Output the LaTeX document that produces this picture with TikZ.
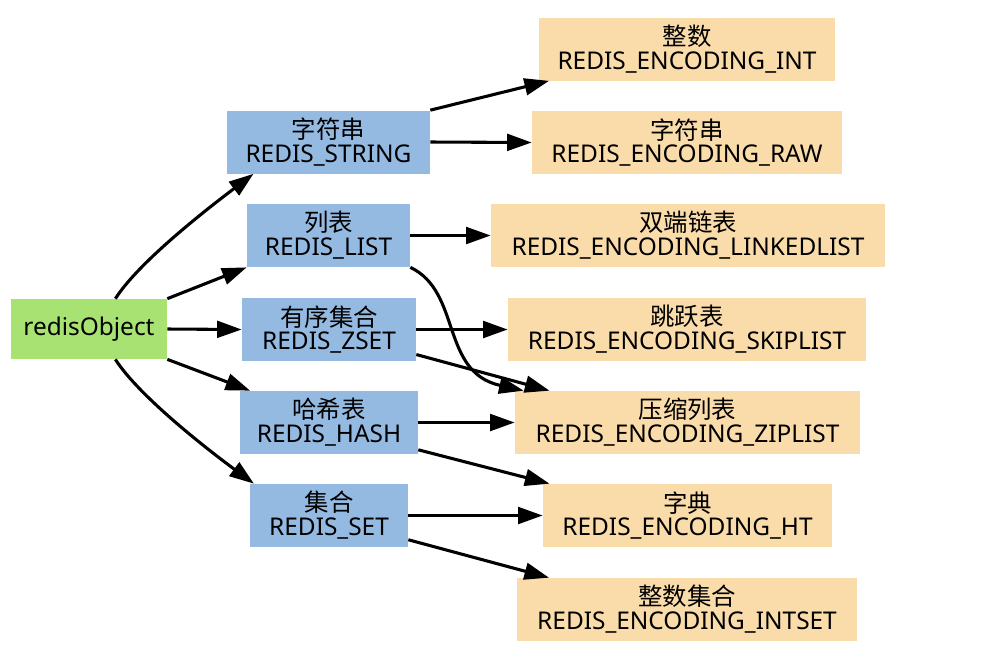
\documentclass[tikz,border=0pt]{standalone}
\usepackage{fontspec}
\setmainfont{Noto Sans}
\newfontfamily\cjk{Noto Sans CJK SC}
\usetikzlibrary{arrows.meta}

\definecolor{objgreen}{HTML}{A8E273}
\definecolor{typeblue}{HTML}{95BAE2}
\definecolor{encorange}{HTML}{FADCAB}

\begin{document}
\begin{tikzpicture}[x=0.02cm,y=-0.02cm,
    box/.style={inner sep=0pt, minimum height=1.26cm, align=center,
                font=\fontsize{13.9}{13.6}\selectfont},
    objbox/.style={box, fill=objgreen, minimum width=3.12cm, minimum height=1.2cm},
    typebox/.style={box, fill=typeblue, minimum width=#1},
    encbox/.style={box, fill=encorange, minimum width=#1},
    arr/.style={-{Triangle[length=14pt,width=9.5pt]}, line width=1.75pt},
    ]
\useasboundingbox (0,0) rectangle (989,664);

%-------------------------------------------- Object
\node[objbox] (robj) at (89,329) {redisObject};

%-------------------------------------------- Types
\node[typebox=4.06cm] (tstring) at (328.5,142)   {{\cjk 字符串}\\REDIS\_STRING};
\node[typebox=3.26cm] (tlist)   at (328.5,235.5) {{\cjk 列表}\\REDIS\_LIST};
\node[typebox=3.48cm] (tzset)   at (329,329.5)   {{\cjk 有序集合}\\REDIS\_ZSET};
\node[typebox=3.56cm] (thash)   at (329,422.5)   {{\cjk 哈希表}\\REDIS\_HASH};
\node[typebox=3.16cm] (tset)    at (329,515.5)   {{\cjk 集合}\\REDIS\_SET};

%-------------------------------------------- Encodings
\node[encbox=5.92cm] (eint)    at (687,49)      {{\cjk 整数}\\REDIS\_ENCODING\_INT};
\node[encbox=6.2cm]  (eraw)    at (687,142.5)   {{\cjk 字符串}\\REDIS\_ENCODING\_RAW};
\node[encbox=7.88cm] (elinked) at (688,235.5)   {{\cjk 双端链表}\\REDIS\_ENCODING\_LINKEDLIST};
\node[encbox=7.16cm] (eskip)   at (687,329.5)   {{\cjk 跳跃表}\\REDIS\_ENCODING\_SKIPLIST};
\node[encbox=6.9cm]  (ezip)    at (687.5,422.5) {{\cjk 压缩列表}\\REDIS\_ENCODING\_ZIPLIST};
\node[encbox=5.78cm] (eht)     at (687.5,515.5) {{\cjk 字典}\\REDIS\_ENCODING\_HT};
\node[encbox=6.8cm]  (eintset) at (687,609.5)   {{\cjk 整数集合}\\REDIS\_ENCODING\_INTSET};

%-------------------------------------------- Object -> types
\draw[arr] (robj.49) .. controls (140,260) and (215,203) .. (tstring.203);  % upper curve
\draw[arr] (robj.north east) -- (tlist.south west);
\draw[arr] (robj.east) -- (tzset.west);
\draw[arr] (robj.south east) -- (thash.158);
\draw[arr] (robj.-49) .. controls (140,398) and (215,455) .. (tset.157);    % lower curve

%-------------------------------------------- Types -> encodings
\draw[arr] (tstring.north east) -- (eint.193);
\draw[arr] (tstring.east) -- (eraw.west);

\draw[arr] (tlist.east) -- (elinked.west);
\draw[arr] (tlist.south east) .. controls (462,292) and (440,372) .. (ezip.169); % crosses zset line

\draw[arr] (tzset.east) -- (eskip.west);
\draw[arr] (tzset.-16) -- (ezip.167);

\draw[arr] (thash.east) -- (ezip.west);
\draw[arr] (thash.-17) -- (eht.167);

\draw[arr] (tset.east) -- (eht.west);
\draw[arr] (tset.-17) -- (eintset.167);

\end{tikzpicture}
\end{document}
